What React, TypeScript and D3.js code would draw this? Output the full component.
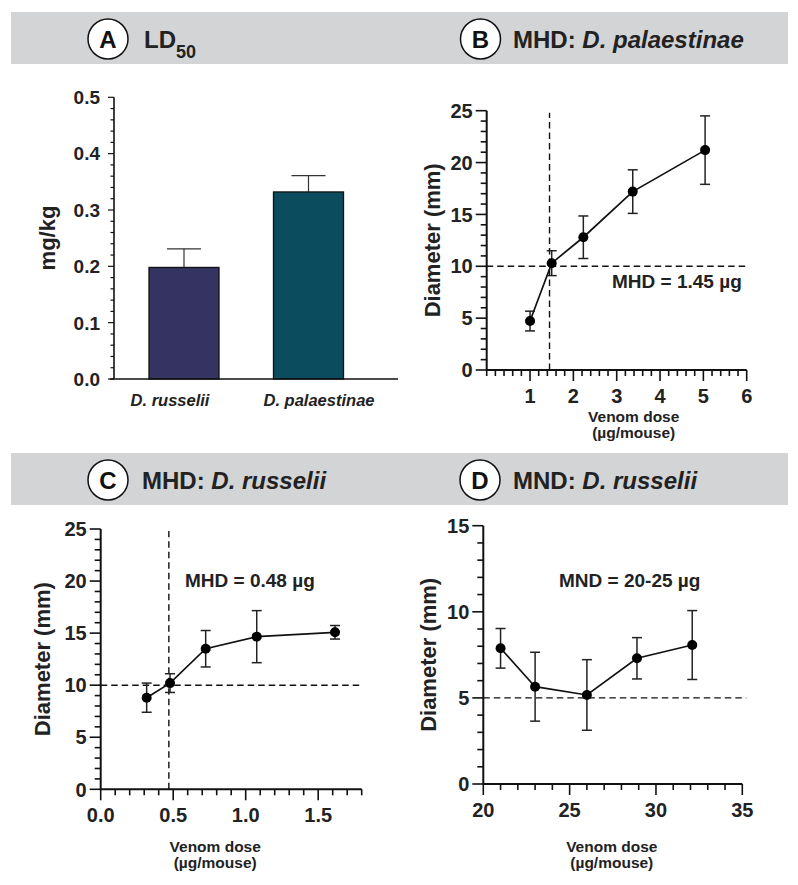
import React from "react";
import * as d3 from "d3";

// ---------- DATA ----------
const ld50Species = ["D. russelii", "D. palaestinae"];
const ld50Values = [0.198, 0.332];
const ld50Errors = [0.033, 0.029];
const ld50Colors = ["#343361", "#0b4c5f"];
const ld50Ticks = [0, 0.1, 0.2, 0.3, 0.4, 0.5];

const palDose = [1.0, 1.5, 2.23, 3.37, 5.04];
const palDiameter = [4.72, 10.3, 12.8, 17.2, 21.2];
const palError = [0.95, 1.2, 2.05, 2.1, 3.3];
const palXTicks = [1, 2, 3, 4, 5, 6];
const palYTicks = [0, 5, 10, 15, 20, 25];

const rusDose = [0.317, 0.478, 0.724, 1.076, 1.616];
const rusDiameter = [8.8, 10.2, 13.5, 14.66, 15.08];
const rusError = [1.4, 0.9, 1.75, 2.5, 0.65];
const rusXTicks = [0, 0.5, 1.0, 1.5];
const rusYTicks = [0, 5, 10, 15, 20, 25];

const mndDose = [21.0, 23.0, 26.0, 28.9, 32.1];
const mndDiameter = [7.88, 5.65, 5.17, 7.3, 8.07];
const mndError = [1.15, 2.0, 2.05, 1.2, 2.0];
const mndXTicks = [20, 25, 30, 35];
const mndYTicks = [0, 5, 10, 15];

const FONT = "'Liberation Sans', Arial, Helvetica, sans-serif";
const TXT = "#222";

function Header({ y, cx, letter, textX, children }: any) {
  return (
    <g>
      <circle cx={cx} cy={y + 27} r={20} fill="#fff" stroke="#111" strokeWidth={1.5} />
      <text x={cx} y={y + 35.5} textAnchor="middle" fontFamily={FONT} fontWeight="bold" fontSize={24} fill="#111">
        {letter}
      </text>
      <text x={textX} y={y + 35.5} fontFamily={FONT} fontWeight="bold" fontSize={24} fill={TXT}>
        {children}
      </text>
    </g>
  );
}

function XYPanel(props: any) {
  const {
    xDomain, yDomain, xRange, yRange, xTicks, yTicks, xMinorStep, yMinorStep,
    dose, diam, err, hLine, vLine, annot, annotX, annotY, yLabelX, xLabelY, tickLabelY, xFmt,
  } = props;
  const x = d3.scaleLinear().domain(xDomain).range(xRange);
  const y = d3.scaleLinear().domain(yDomain).range(yRange);
  const xMinor = d3.range(xDomain[0], xDomain[1] + 1e-9, xMinorStep);
  const yMinor = d3.range(yDomain[0], yDomain[1] + 1e-9, yMinorStep);
  const isMajor = (v: number, arr: number[]) => arr.some((t) => Math.abs(t - v) < 1e-6);
  const line = d3.line<number>().x((_, i) => x(dose[i])).y((d) => y(d));
  const x0 = xRange[0];
  const y0 = yRange[0];
  const yMid = (yRange[0] + yRange[1]) / 2;
  const xMid = (xRange[0] + xRange[1]) / 2;
  return (
    <g>
      {/* dashed reference lines */}
      <line x1={x(xDomain[0])} x2={x(xDomain[1]) + (props.hExtend || 0)} y1={y(hLine)} y2={y(hLine)} stroke="#111" strokeWidth={1.4} strokeDasharray="6.5,4" />
      {vLine !== undefined && (
        <line x1={x(vLine)} x2={x(vLine)} y1={y(yDomain[0])} y2={y(yDomain[1]) + 2} stroke="#111" strokeWidth={1.4} strokeDasharray="6.5,4" />
      )}
      {/* axes */}
      <line x1={x0} x2={x0} y1={y0} y2={yRange[1]} stroke="#111" strokeWidth={2} />
      <line x1={x0} x2={xRange[1]} y1={y0} y2={y0} stroke="#111" strokeWidth={2} />
      {yMinor.map((v, i) => (
        <line key={"ym" + i} x1={x0 - (isMajor(v, yTicks) ? 11 : 6)} x2={x0} y1={y(v)} y2={y(v)} stroke="#111" strokeWidth={1.6} />
      ))}
      {xMinor.map((v, i) => (
        <line key={"xm" + i} x1={x(v)} x2={x(v)} y1={y0} y2={y0 + (isMajor(v, xTicks) ? 11 : 6)} stroke="#111" strokeWidth={1.6} />
      ))}
      {yTicks.map((v: number) => (
        <text key={"yt" + v} x={x0 - 14} y={y(v)} dy="0.36em" textAnchor="end" fontFamily={FONT} fontWeight="bold" fontSize={20} fill={TXT}>
          {v}
        </text>
      ))}
      {xTicks.map((v: number) => (
        <text key={"xt" + v} x={x(v)} y={tickLabelY} textAnchor="middle" fontFamily={FONT} fontWeight="bold" fontSize={20} fill={TXT}>
          {xFmt ? xFmt(v) : v}
        </text>
      ))}
      {/* data line */}
      <path d={line(diam) || ""} fill="none" stroke="#111" strokeWidth={1.7} />
      {diam.map((d: number, i: number) => (
        <g key={"e" + i}>
          <line x1={x(dose[i])} x2={x(dose[i])} y1={y(d - err[i])} y2={y(d + err[i])} stroke="#222" strokeWidth={1.5} />
          <line x1={x(dose[i]) - 5} x2={x(dose[i]) + 5} y1={y(d - err[i])} y2={y(d - err[i])} stroke="#222" strokeWidth={1.5} />
          <line x1={x(dose[i]) - 5} x2={x(dose[i]) + 5} y1={y(d + err[i])} y2={y(d + err[i])} stroke="#222" strokeWidth={1.5} />
          <circle cx={x(dose[i])} cy={y(d)} r={5} fill="#000" />
        </g>
      ))}
      <text x={annotX} y={annotY} fontFamily={FONT} fontWeight="bold" fontSize={19} fill={TXT}>
        {annot}
      </text>
      <text transform={`translate(${yLabelX},${yMid}) rotate(-90)`} textAnchor="middle" dy="0.35em" fontFamily={FONT} fontWeight="bold" fontSize={22} fill={TXT}>
        Diameter (mm)
      </text>
      <text x={xMid + (props.xLabelShift || 0)} y={xLabelY} textAnchor="middle" fontFamily={FONT} fontWeight="bold" fontSize={15.5} fill={TXT}>
        Venom dose
      </text>
      <text x={xMid + (props.xLabelShift || 0)} y={xLabelY + 16} textAnchor="middle" fontFamily={FONT} fontWeight="bold" fontSize={15.5} fill={TXT}>
        (µg/mouse)
      </text>
    </g>
  );
}

function BarPanel() {
  const x = d3.scaleBand().domain(ld50Species).range([114, 398]).paddingInner(0.78).paddingOuter(0.5);
  const y = d3.scaleLinear().domain([0, 0.5]).range([379, 97.3]);
  const minor = d3.range(0, 0.5 + 1e-9, 0.02);
  const bw = 70;
  const centers = [184, 308.5];
  const labelCenters = [170, 319];
  void x;
  return (
    <g>
      {ld50Species.map((s, i) => {
        const cx = centers[i];
        return (
          <g key={s}>
            <line x1={cx} x2={cx} y1={y(ld50Values[i])} y2={y(ld50Values[i] + ld50Errors[i])} stroke="#333" strokeWidth={1.2} />
            <line x1={cx - 17} x2={cx + 17} y1={y(ld50Values[i] + ld50Errors[i])} y2={y(ld50Values[i] + ld50Errors[i])} stroke="#333" strokeWidth={1.2} />
            <rect x={cx - bw / 2} y={y(ld50Values[i])} width={bw} height={y(0) - y(ld50Values[i])} fill={ld50Colors[i]} stroke="#111" strokeWidth={1.3} />
            <text x={labelCenters[i]} y={406} textAnchor="middle" fontFamily={FONT} fontWeight="bold" fontStyle="italic" fontSize={16.5} fill={TXT}>
              {s}
            </text>
          </g>
        );
      })}
      <line x1={114} x2={114} y1={y(0)} y2={y(0.5)} stroke="#111" strokeWidth={1.6} />
      <line x1={110} x2={398} y1={y(0)} y2={y(0)} stroke="#111" strokeWidth={1.6} />
      {minor.map((v, i) => (
        <line key={i} x1={114 - (i % 5 === 0 ? 6 : 3.5)} x2={114} y1={y(v)} y2={y(v)} stroke="#111" strokeWidth={1.2} />
      ))}
      {ld50Ticks.map((v) => (
        <text key={v} x={100} y={y(v)} dy="0.36em" textAnchor="end" fontFamily={FONT} fontWeight="bold" fontSize={19} fill={TXT}>
          {v.toFixed(1)}
        </text>
      ))}
      <text transform={`translate(47,238) rotate(-90)`} textAnchor="middle" dy="0.35em" fontFamily={FONT} fontWeight="bold" fontSize={22} fill={TXT}>
        mg/kg
      </text>
    </g>
  );
}

export default function App() {
  return (
    <svg width={798} height={885} style={{ position: "absolute", left: 0, top: 0, background: "#fff" }}>
      <rect x={0} y={0} width={798} height={885} fill="#fff" />
      <rect x={11} y={12} width={777} height={52} fill="#d3d4d6" />
      <rect x={11} y={453} width={777} height={52} fill="#d3d4d6" />
      <Header y={12} cx={108} letter="A" textX={144}>
        LD<tspan fontSize={18} dy={10}>50</tspan>
      </Header>
      <Header y={12} cx={480.5} letter="B" textX={513}>
        MHD: <tspan fontStyle="italic">D. palaestinae</tspan>
      </Header>
      <Header y={453} cx={108} letter="C" textX={142}>
        MHD: <tspan fontStyle="italic">D. russelii</tspan>
      </Header>
      <Header y={453} cx={480} letter="D" textX={513}>
        MND: <tspan fontStyle="italic">D. russelii</tspan>
      </Header>

      <BarPanel />

      <XYPanel
        xDomain={[0, 6]} yDomain={[0, 25]} xRange={[486.7, 746.7]} yRange={[370, 110.7]}
        xTicks={palXTicks} yTicks={palYTicks} xMinorStep={0.2} yMinorStep={1}
        dose={palDose} diam={palDiameter} err={palError} hLine={10} vLine={1.45}
        annot="MHD = 1.45 µg" annotX={612} annotY={288} yLabelX={432} xLabelY={422} tickLabelY={403}
        xLabelShift={17}
      />
      <XYPanel
        xDomain={[0, 1.8]} yDomain={[0, 25]} xRange={[100.7, 361.7]} yRange={[789.3, 529]}
        xTicks={rusXTicks} yTicks={rusYTicks} xMinorStep={0.1} yMinorStep={1}
        dose={rusDose} diam={rusDiameter} err={rusError} hLine={10} vLine={0.47}
        annot="MHD = 0.48 µg" annotX={185} annotY={587} yLabelX={42} xLabelY={852} tickLabelY={822}
        xFmt={(v: number) => v.toFixed(1)} xLabelShift={-16}
      />
      <XYPanel
        xDomain={[20, 35]} yDomain={[0, 15]} xRange={[483.3, 742.3]} yRange={[784, 525.7]}
        xTicks={mndXTicks} yTicks={mndYTicks} xMinorStep={1} yMinorStep={1}
        dose={mndDose} diam={mndDiameter} err={mndError} hLine={5}
        annot="MND = 20-25 µg" annotX={559} annotY={587} yLabelX={428} xLabelY={852} tickLabelY={817}
        hExtend={4} xLabelShift={-1}
      />
    </svg>
  );
}
